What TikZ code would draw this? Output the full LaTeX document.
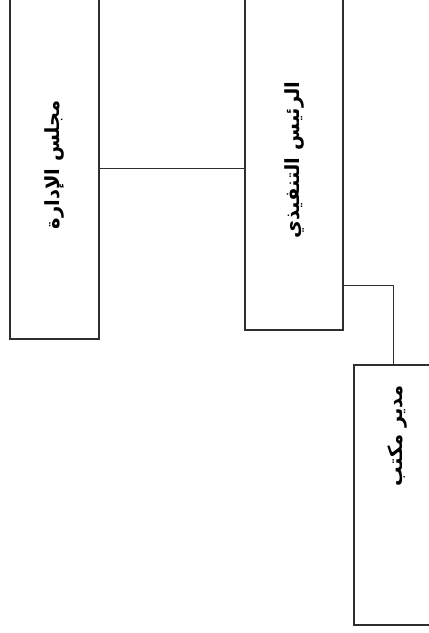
\documentclass[tikz,border=0pt]{standalone}
\usepackage{fontspec}
\usepackage{graphicx}
\newfontfamily\arabicfont[Script=Arabic]{DejaVu Sans}
\TeXXeTstate=1
\definecolor{edge}{HTML}{2E2E2E}
\begin{document}
\begin{tikzpicture}[x=1pt,y=1pt,
  box/.style={draw=edge,line width=1.4pt,rectangle,inner sep=0pt,fill=white},
  conn/.style={draw=edge,line width=0.8pt},
  lbl/.style={font=\arabicfont\bfseries\fontsize{19.5}{22}\selectfont}]
\useasboundingbox (0,0) rectangle (429,633);
\fill[white] (0,0) rectangle (429,633);
\clip (0,0) rectangle (429,633);
\node[box,lbl,minimum width=89,minimum height=349] (b1) at (54.5,468.5)
  {\rotatebox{90}{\beginR مجلس الإدارة\endR}};
\node[box,lbl,minimum width=98,minimum height=340] (b2) at (294,473)
  {\rotatebox{90}{\beginR الرئيس التنفيذي\endR}};
\node[box,lbl,minimum width=86,minimum height=260] (b3) at (397,138)
  {\rotatebox{90}{\hbox to 220pt{\hfill\beginR مدير مكتب\endR}}};
\coordinate (c1) at (0,465);
\coordinate (c2) at (393,348);
\draw[conn] (b1.east |- c1) -- (b2.west |- c1);
\draw[conn] (b2.east |- c2) -| (b3.north -| c2);
\end{tikzpicture}
\end{document}
